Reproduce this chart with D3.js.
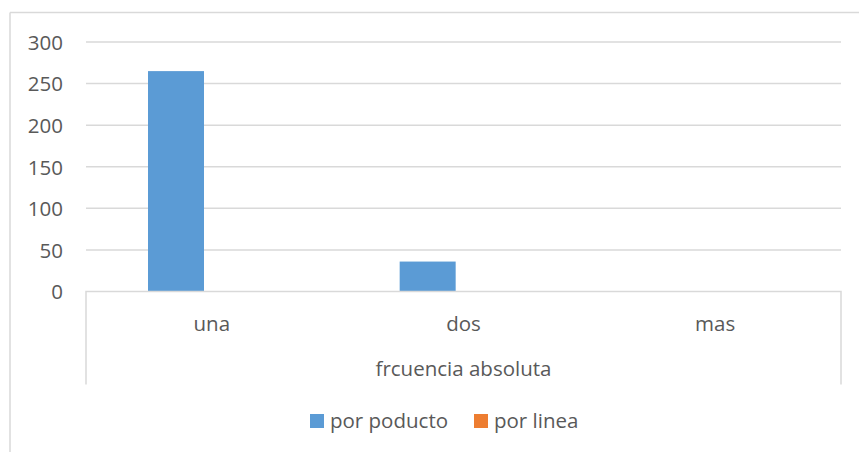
<!DOCTYPE html>
<html>
<head>
<meta charset="utf-8">
<script src="https://cdn.jsdelivr.net/npm/d3@7"></script>
<style>
  html, body { margin: 0; padding: 0; background: #ffffff; }
  svg { display: block; }
  text { font-family: "Open Sans", Lato, sans-serif; fill: #595959; }
</style>
</head>
<body>
<svg id="chart" width="859" height="452"></svg>
<script>
// Categories, series and axis ticks
const categories = ["una", "dos", "mas"];
const groupLabel = "frcuencia absoluta";
const seriesNames = ["por poducto", "por linea"];
const porProducto = [265, 36, 0];
const porLinea = [0, 0, 0];
const yTicks = [0, 50, 100, 150, 200, 250, 300];
const seriesColors = ["#5b9bd5", "#ed7d31"];

const rows = categories.map((c, i) => ({
  category: c,
  values: [
    { series: seriesNames[0], value: porProducto[i] },
    { series: seriesNames[1], value: porLinea[i] }
  ]
}));

const svg = d3.select("#chart");
const fontSize = 20.5;
const fontFamily = "'Open Sans', Lato, sans-serif";

// Chart frame (top and left edges visible)
svg.append("line").attr("x1", 10).attr("x2", 859).attr("y1", 12.5).attr("y2", 12.5)
  .attr("stroke", "#d9d9d9").attr("stroke-width", 1.5);
svg.append("line").attr("x1", 10).attr("x2", 10).attr("y1", 12.5).attr("y2", 452)
  .attr("stroke", "#d9d9d9").attr("stroke-width", 1.5);

const plot = { left: 86, right: 841, top: 42, bottom: 291.5 };

const y = d3.scaleLinear().domain([0, 300]).range([plot.bottom, plot.top]);
const x0 = d3.scaleBand().domain(categories).range([plot.left, plot.right]).padding(0);
const x1 = d3.scaleBand().domain(seriesNames).range([62, 174]).padding(0);

// Gridlines
svg.append("g").selectAll("line").data(yTicks.filter(t => t > 0)).join("line")
  .attr("x1", plot.left).attr("x2", plot.right)
  .attr("y1", d => y(d)).attr("y2", d => y(d))
  .attr("stroke", "#d9d9d9").attr("stroke-width", 1.5);

// Y axis labels
const yAxis = d3.axisLeft(y).tickValues(yTicks).tickSize(0).tickPadding(0);
const yg = svg.append("g").attr("transform", `translate(63,0)`).call(yAxis);
yg.select(".domain").remove();
yg.selectAll("text")
  .attr("x", 0).attr("dy", "0.36em")
  .style("font-family", fontFamily)
  .style("font-size", fontSize + "px").attr("fill", "#595959");

// Bars
svg.append("g").selectAll("g").data(rows).join("g")
  .attr("transform", d => `translate(${x0(d.category)},0)`)
  .selectAll("rect").data(d => d.values).join("rect")
  .attr("x", d => x1(d.series))
  .attr("width", x1.bandwidth())
  .attr("y", d => y(d.value))
  .attr("height", d => y(0) - y(d.value))
  .attr("fill", (d, i) => seriesColors[i]);

// Category axis box
const axisBottom = 384.5;
svg.append("path")
  .attr("d", `M${plot.left},${axisBottom}V${plot.bottom}H${plot.right}V${axisBottom}`)
  .attr("fill", "none").attr("stroke", "#d9d9d9").attr("stroke-width", 1.5);

// Category labels
svg.append("g").selectAll("text").data(categories).join("text")
  .attr("x", d => x0(d) + x0.bandwidth() / 2)
  .attr("y", 331)
  .attr("text-anchor", "middle")
  .style("font-size", fontSize + "px")
  .text(d => d);

// Group label
svg.append("text")
  .attr("x", (plot.left + plot.right) / 2)
  .attr("y", 376)
  .attr("text-anchor", "middle")
  .style("font-size", fontSize + "px")
  .text(groupLabel);

// Legend
const legendX = [310, 474];
const legend = svg.append("g").selectAll("g").data(seriesNames).join("g")
  .attr("transform", (d, i) => `translate(${legendX[i]},414)`);
legend.append("rect").attr("width", 14).attr("height", 14)
  .attr("fill", (d, i) => seriesColors[i]);
legend.append("text").attr("x", 20).attr("y", 14)
  .style("font-size", fontSize + "px")
  .text(d => d);
</script>
</body>
</html>
